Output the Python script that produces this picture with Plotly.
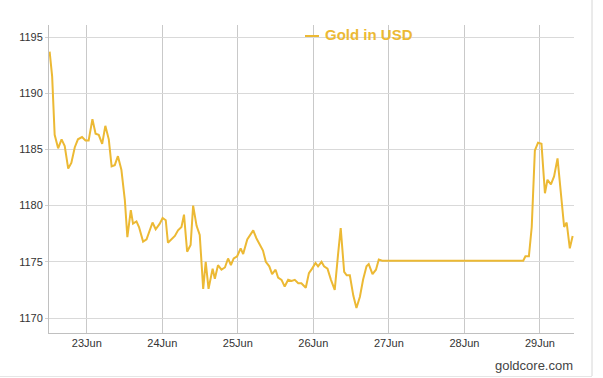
import pandas as pd
import plotly.graph_objects as go

# ---- data ----
start_time = "2015-06-22 12:00"
hours = [0.2, 1.0, 1.8, 2.9, 4.0, 5.0, 6.1, 7.1, 8.2, 9.2, 10.5, 11.6, 12.6, 13.8, 14.8, 15.8,
         16.9, 17.9, 19.0, 19.9, 20.9, 21.9, 23.0, 24.1, 24.9, 26.0, 26.7, 27.8, 28.6, 29.9,
         31.0, 32.0, 32.9, 33.9, 35.2, 36.1, 37.1, 37.8, 38.9, 40.0, 41.0, 42.1, 42.9, 43.9,
         45.0, 45.8, 46.9, 47.9, 49.0, 49.8, 50.7, 52.0, 52.7, 53.7, 54.8, 55.9, 56.9, 57.8,
         58.7, 59.8, 60.9, 61.7, 63.0, 63.8, 64.9, 65.9, 67.0, 68.0, 68.9, 70.0, 70.9, 72.0,
         72.8, 73.9, 74.9, 76.0, 77.1, 78.1, 79.2, 80.2, 81.6, 82.6, 83.6, 84.7, 85.5, 86.6,
         87.4, 88.5, 89.6, 90.8, 91.9, 92.7, 93.8, 94.6, 95.6, 96.7, 97.7, 98.8, 99.8, 100.9,
         101.6, 102.8, 103.9, 104.8, 105.9, 150.7, 151.4, 152.5, 153.4, 154.4, 155.4, 156.5,
         157.6, 158.4, 159.5, 160.5, 161.6, 162.7, 163.7, 164.5, 165.5, 166.4]
prices = [1193.7, 1191.5, 1186.3, 1185.1, 1185.9, 1185.3, 1183.3, 1183.8, 1185.2, 1185.9,
          1186.1, 1185.8, 1185.8, 1187.7, 1186.4, 1186.3, 1185.5, 1187.1, 1185.9, 1183.5,
          1183.6, 1184.4, 1183.2, 1180.5, 1177.2, 1179.6, 1178.4, 1178.6, 1178.1, 1176.8,
          1177.0, 1177.7, 1178.5, 1177.9, 1178.4, 1178.9, 1178.7, 1176.7, 1177.0, 1177.3,
          1177.8, 1178.1, 1179.2, 1175.9, 1176.5, 1180.0, 1178.2, 1177.4, 1172.6, 1175.0,
          1172.6, 1174.4, 1173.5, 1174.7, 1174.3, 1174.5, 1175.3, 1174.7, 1175.3, 1175.5,
          1176.2, 1175.7, 1177.0, 1177.3, 1177.8, 1177.1, 1176.5, 1176.0, 1175.0, 1174.6,
          1173.9, 1174.3, 1173.6, 1173.4, 1172.8, 1173.4, 1173.3, 1173.4, 1173.1, 1173.1,
          1172.7, 1174.0, 1174.4, 1174.9, 1174.6, 1175.0, 1174.6, 1174.4, 1173.4, 1172.5,
          1175.8, 1178.0, 1174.1, 1173.8, 1173.8, 1172.0, 1170.9, 1171.9, 1173.4, 1174.6,
          1174.8, 1173.9, 1174.3, 1175.2, 1175.1, 1175.1, 1175.5, 1175.5, 1178.1, 1184.9,
          1185.6, 1185.5, 1181.1, 1182.3, 1181.9, 1182.6, 1184.2, 1180.8, 1178.1, 1178.5,
          1176.2, 1177.3]
series_name = "Gold in USD"
tick_dates = ["2015-06-23", "2015-06-24", "2015-06-25", "2015-06-26",
              "2015-06-27", "2015-06-28", "2015-06-29"]
tick_labels = ["23Jun", "24Jun", "25Jun", "26Jun", "27Jun", "28Jun", "29Jun"]
y_ticks = [1170, 1175, 1180, 1185, 1190, 1195]
credit = "goldcore.com"

GOLD = "#ECB934"
times = pd.Timestamp(start_time) + pd.to_timedelta(hours, unit="h")

fig = go.Figure()
fig.add_trace(go.Scatter(x=times, y=prices, mode="lines", name=series_name,
                         line=dict(color=GOLD, width=2), showlegend=False))

W, H = 603, 378
L, R, T, B = 49, 29, 25, 45
pw, ph = W - L - R, H - T - B

def px_x(x):
    return (x - L) / pw

def px_y(y):
    return (H - B - y) / ph

fig.update_layout(
    width=W, height=H,
    margin=dict(l=L, r=R, t=T, b=B),
    paper_bgcolor="white", plot_bgcolor="white",
    font=dict(family="Liberation Sans, Arial, sans-serif", size=11, color="#333333"),
    xaxis=dict(
        range=["2015-06-22 12:00", "2015-06-29 10:50"],
        tickvals=tick_dates, ticktext=tick_labels,
        showgrid=True, gridcolor="#c9c9c9", gridwidth=1,
        showline=True, linecolor="#c0c0c0", linewidth=1,
        ticks="", zeroline=False,
        tickfont=dict(size=11, color="#333333"),
    ),
    yaxis=dict(
        range=[1168.67, 1196.07],
        tickvals=y_ticks,
        showgrid=True, gridcolor="#d9d9d9", gridwidth=1,
        showline=True, linecolor="#c0c0c0", linewidth=1,
        ticks="outside", ticklen=3, tickcolor="#d0d0d0",
        zeroline=False,
        tickfont=dict(size=11, color="#333333"),
    ),
)

# legend box (covers gridlines)
fig.add_shape(type="rect", xref="paper", yref="paper",
              x0=px_x(304), x1=1.0, y0=px_y(43), y1=1.0,
              fillcolor="white", line=dict(width=0), layer="between")
# legend symbol
fig.add_shape(type="line", xref="paper", yref="paper",
              x0=px_x(305), x1=px_x(319), y0=px_y(36), y1=px_y(36),
              line=dict(color=GOLD, width=2), layer="above")
fig.add_annotation(text="<b>" + series_name + "</b>", xref="paper", yref="paper",
                   x=px_x(323), y=px_y(35), xanchor="left", yanchor="middle",
                   showarrow=False, font=dict(size=15, color=GOLD,
                                              family="Liberation Sans, Arial, sans-serif"))
fig.add_annotation(text=credit, xref="paper", yref="paper",
                   x=px_x(575), y=px_y(365), xanchor="right", yanchor="middle",
                   showarrow=False, font=dict(size=13, color="#444444",
                                              family="Liberation Sans, Arial, sans-serif"))
# screenshot frame lines
fig.add_shape(type="line", xref="paper", yref="paper",
              x0=px_x(592), x1=px_x(592), y0=px_y(0), y1=px_y(376),
              line=dict(color="#d6d6d6", width=1))
fig.add_shape(type="line", xref="paper", yref="paper",
              x0=px_x(0), x1=px_x(592), y0=px_y(376.5), y1=px_y(376.5),
              line=dict(color="#e6e6e6", width=1))

fig.write_html("out.html", config={"displayModeBar": False},
               post_script="document.body.style.margin='0';document.body.style.padding='0';")
